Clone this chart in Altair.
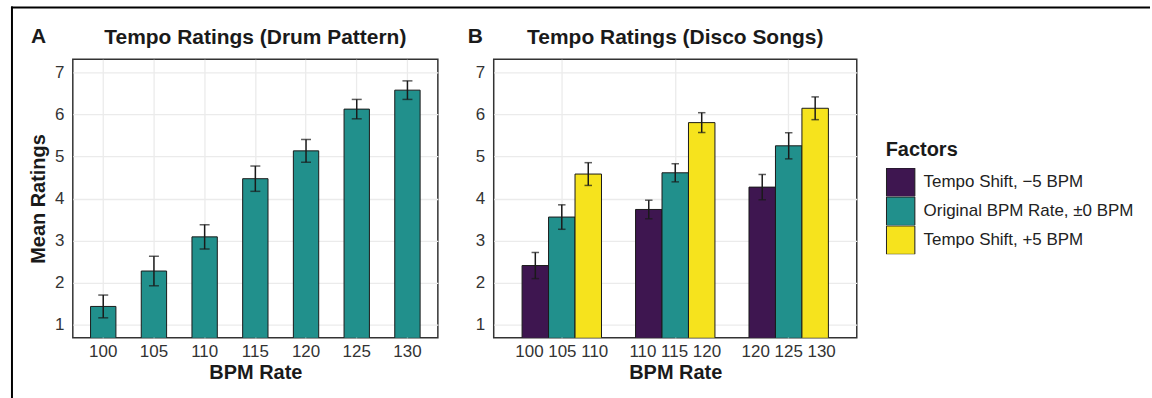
import altair as alt
import pandas as pd

# ---------------- data ----------------
bpm_a = ["100", "105", "110", "115", "120", "125", "130"]
mean_a = [1.44, 2.28, 3.09, 4.47, 5.13, 6.12, 6.57]
err_a = [0.27, 0.35, 0.29, 0.30, 0.27, 0.23, 0.22]

groups_b = ["100 105 110", "110 115 120", "120 125 130"]
factors = ["Tempo Shift, −5 BPM", "Original BPM Rate, ±0 BPM", "Tempo Shift, +5 BPM"]
factor_colors = ["#3E1650", "#21908C", "#F6E31D"]
mean_b = [[2.41, 3.56, 4.58], [3.74, 4.61, 5.80], [4.27, 5.25, 6.14]]
err_b = [[0.31, 0.29, 0.27], [0.22, 0.215, 0.235], [0.30, 0.31, 0.27]]

y_ticks = [1, 1.5, 2, 2.5, 3, 3.5, 4, 4.5, 5, 5.5, 6, 6.5, 7]
y_domain = [0.7, 7.3]

FONT = "Liberation Sans"
W_A, W_B, H = 366, 364, 279
BAR_STROKE = "#1a1a1a"

df_a = pd.DataFrame({
    "bpm": bpm_a,
    "mean": mean_a,
    "lo": [m - e for m, e in zip(mean_a, err_a)],
    "hi": [m + e for m, e in zip(mean_a, err_a)],
})

rows = []
for gi, g in enumerate(groups_b):
    for fi, f in enumerate(factors):
        m, e = mean_b[gi][fi], err_b[gi][fi]
        rows.append({"group": g, "factor": f, "mean": m, "lo": m - e, "hi": m + e})
df_b = pd.DataFrame(rows)

one = pd.DataFrame({"k": [0]})

grid_w = {"condition": {"test": "datum.value % 1 == 0", "value": 1.3}, "value": 0.6}


def y_axis(title):
    kw = dict(values=y_ticks, labelExpr="datum.value % 1 == 0 ? datum.label : ''",
              gridColor="#EBEBEB", gridWidth=grid_w, ticks=False, tickSize=0,
              domain=False, labelFontSize=17, labelColor="#333333", labelPadding=9,
              labelFont=FONT)
    if title:
        kw.update(title=title, titleFontSize=20, titleFontWeight="bold",
                  titleColor="#1a1a1a", titleFont=FONT, titlePadding=6)
    else:
        kw.update(title=None)
    return alt.Axis(**kw)


def x_axis():
    return alt.Axis(title="BPM Rate", labelAngle=0, labelFontSize=17,
                    labelColor="#333333", labelPadding=6, labelFont=FONT,
                    titleFontSize=20, titleFontWeight="bold", titleColor="#1a1a1a",
                    titleFont=FONT, titlePadding=3, ticks=False, tickSize=0,
                    domain=False, grid=True, gridColor="#EBEBEB", gridWidth=1.3,
                    bandPosition=0.5, labelLimit=0)


y_scale = alt.Scale(domain=y_domain, nice=False, zero=False)

# ---------------- panel A ----------------
xa = alt.X("bpm:N", sort=bpm_a,
           scale=alt.Scale(paddingInner=0.5, paddingOuter=0.35), axis=x_axis())

bars_a = alt.Chart(df_a).mark_bar(color="#21908C", stroke=BAR_STROKE, strokeWidth=1,
                                  clip=True).encode(
    x=xa, y=alt.Y("mean:Q", scale=y_scale, axis=y_axis("Mean Ratings")))
rule_a = alt.Chart(df_a).mark_rule(color=BAR_STROKE, strokeWidth=1.5).encode(
    x="bpm:N", y="lo:Q", y2="hi:Q")
cap_lo_a = alt.Chart(df_a).mark_tick(color=BAR_STROKE, size=10, thickness=1.5).encode(
    x="bpm:N", y="lo:Q")
cap_hi_a = alt.Chart(df_a).mark_tick(color=BAR_STROKE, size=10, thickness=1.5).encode(
    x="bpm:N", y="hi:Q")
title_a = alt.Chart(one).mark_text(text="Tempo Ratings (Drum Pattern)", font=FONT,
                                   fontSize=21, fontWeight="bold", color="#1a1a1a",
                                   align="center", baseline="alphabetic").encode(
    x=alt.value(W_A / 2), y=alt.value(-15))
tag_a = alt.Chart(one).mark_text(text="A", font=FONT, fontSize=21, fontWeight="bold",
                                 color="#1a1a1a", align="left",
                                 baseline="alphabetic").encode(
    x=alt.value(-42), y=alt.value(-16))
frame_top = alt.Chart(one).mark_rule(color="#000000", strokeWidth=2).encode(
    x=alt.value(-62), x2=alt.value(1080), y=alt.value(-52))
frame_left = alt.Chart(one).mark_rule(color="#000000", strokeWidth=2).encode(
    x=alt.value(-61), y=alt.value(-53), y2=alt.value(340))

panel_a = alt.layer(bars_a, rule_a, cap_lo_a, cap_hi_a, title_a, tag_a,
                    frame_top, frame_left).properties(width=W_A, height=H)

# ---------------- panel B ----------------
xb = alt.X("group:N", sort=groups_b,
           scale=alt.Scale(paddingInner=0.3, paddingOuter=0.25), axis=x_axis())
xob = alt.XOffset("factor:N", sort=factors,
                  scale=alt.Scale(paddingInner=0, paddingOuter=0))

bars_b = alt.Chart(df_b).mark_bar(stroke=BAR_STROKE, strokeWidth=1, clip=True).encode(
    x=xb, xOffset=xob,
    y=alt.Y("mean:Q", scale=y_scale, axis=y_axis(None)),
    color=alt.Color("factor:N", sort=factors,
                    scale=alt.Scale(domain=factors, range=factor_colors),
                    legend=alt.Legend(title="Factors", orient="none", legendX=815,
                                      legendY=81, titleFont=FONT, titleFontSize=20,
                                      titleFontWeight="bold", titleColor="#1a1a1a",
                                      titlePadding=8, labelFont=FONT, labelFontSize=17,
                                      labelColor="#222222", labelOffset=8,
                                      labelLimit=0, clipHeight=28.5,
                                      symbolType="square", symbolSize=812,
                                      symbolStrokeColor="#1a1a1a", symbolStrokeWidth=1,
                                      symbolOpacity=1, rowPadding=0)))
rule_b = alt.Chart(df_b).mark_rule(color=BAR_STROKE, strokeWidth=1.5).encode(
    x=alt.X("group:N", sort=groups_b), xOffset=alt.XOffset("factor:N", sort=factors),
    y="lo:Q", y2="hi:Q")
cap_lo_b = alt.Chart(df_b).mark_tick(color=BAR_STROKE, size=7.5, thickness=1.5).encode(
    x=alt.X("group:N", sort=groups_b), xOffset=alt.XOffset("factor:N", sort=factors),
    y="lo:Q")
cap_hi_b = alt.Chart(df_b).mark_tick(color=BAR_STROKE, size=7.5, thickness=1.5).encode(
    x=alt.X("group:N", sort=groups_b), xOffset=alt.XOffset("factor:N", sort=factors),
    y="hi:Q")
title_b = alt.Chart(one).mark_text(text="Tempo Ratings (Disco Songs)", font=FONT,
                                   fontSize=21, fontWeight="bold", color="#1a1a1a",
                                   align="center", baseline="alphabetic").encode(
    x=alt.value(W_B / 2), y=alt.value(-15))
tag_b = alt.Chart(one).mark_text(text="B", font=FONT, fontSize=21, fontWeight="bold",
                                 color="#1a1a1a", align="left",
                                 baseline="alphabetic").encode(
    x=alt.value(-26), y=alt.value(-16))

panel_b = alt.layer(bars_b, rule_b, cap_lo_b, cap_hi_b, title_b,
                    tag_b).properties(width=W_B, height=H)

chart = alt.hconcat(panel_a, panel_b, spacing=56, bounds="flush").properties(
    padding={"left": 9, "top": 4, "right": 0, "bottom": 0},
    background="white",
).configure_view(stroke="#333333", strokeWidth=1.5)

chart.save("out.html", embed_options={"renderer": "svg", "actions": False})
